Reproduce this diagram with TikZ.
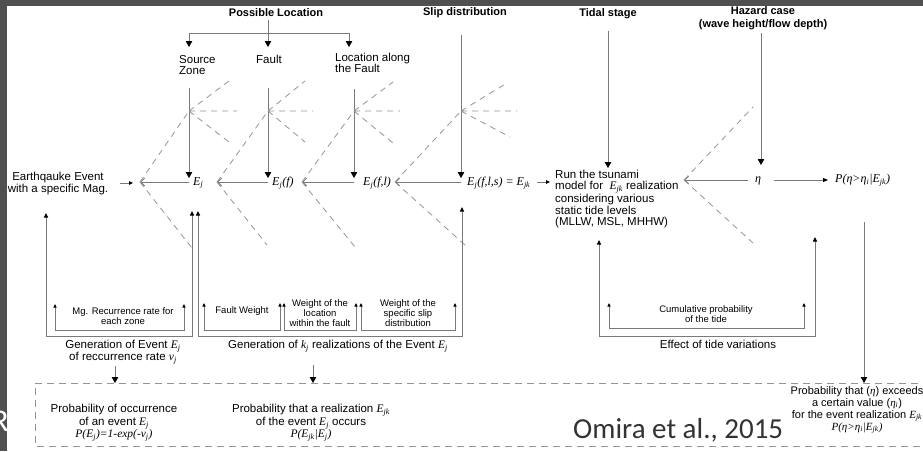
\documentclass[tikz,border=0pt]{standalone}
\usepackage{fontspec}
\setmainfont{Liberation Sans}
\newfontfamily\tms{Liberation Serif}
\newfontfamily\carl{Carlito}
\usetikzlibrary{arrows.meta}
\definecolor{bg}{HTML}{505050}
\definecolor{lc}{HTML}{7A7A7A}
\definecolor{dc}{HTML}{959595}
\newcommand{\mi}[1]{{\tms\itshape #1}}
\newcommand{\Ej}{\mi{E\textsubscript{j}}}
\newcommand{\Ejk}{\mi{E\textsubscript{jk}}}
\begin{document}
\begin{tikzpicture}[x=1pt,y=-1pt,
  ln/.style={draw=lc,line width=0.9pt},
  dsh/.style={draw=dc,line width=0.8pt,dash pattern=on 6pt off 5pt},
  bigarr/.style={ln,-{Triangle[length=6pt,width=6.5pt,color=black]}},
  smarr/.style={ln,-{Triangle[length=4pt,width=3.5pt,color=black]}},
  brk/.style={ln,{Triangle[length=4.5pt,width=4pt,color=black]}-{Triangle[length=4.5pt,width=4pt,color=black]}},
  ibrk/.style={ln,{Triangle[length=3.5pt,width=3pt,color=black]}-{Triangle[length=3.5pt,width=3pt,color=black]}},
  opn/.style={ln,-{Straight Barb[length=4pt,width=8pt]}},
  hd/.style={font=\fontsize{11}{13}\selectfont\bfseries,inner sep=0pt,align=center},
  tx/.style={font=\fontsize{11.5}{12}\selectfont,inner sep=0pt,align=center},
  txl/.style={font=\fontsize{11.5}{11.7}\selectfont,inner sep=0pt,align=left},
  sm/.style={font=\fontsize{9.5}{10}\selectfont,inner sep=0pt,align=center},
  em/.style={font=\tms\itshape\fontsize{12}{12}\selectfont,inner sep=0pt},
]
\fill[bg] (0,0) rectangle (923,451);
\fill[white] (7,6) rectangle (923,451);
\useasboundingbox (0,0) rectangle (923,451);
\node[anchor=east,text=white,font=\carl\fontsize{32}{32}\selectfont,inner sep=0pt] (rr) at (9,421) {R};

% headers
\node[hd] (pl) at (276,13) {Possible Location};
\node[hd] (sd) at (465,13) {Slip distribution};
\node[hd] (ts) at (608,14) {Tidal stage};
\node[hd] (hz) at (763,18.5) {Hazard case\\(wave height/flow depth)};

% location labels
\node[txl,anchor=west] (sz) at (179,65) {Source\\Zone};
\node[tx] (ft) at (269,59) {Fault};
\node[txl,anchor=west] (lf) at (335,63) {Location along\\the Fault};

\coordinate (plT) at (268,20);
\coordinate (plL) at (189,33);
\coordinate (plR) at (349,33);
\draw[ln] (plL) -- (plR);
\draw[bigarr] (plT) -- (268,47);
\draw[bigarr] (plL) -- (189,47);
\draw[bigarr] (plR) -- (349,47);

% E row
\node[tx] (eq) at (58,184) {Earthqauke Event\\with a specific Mag.};
\node[em,anchor=west] (e1) at (193,183) {E\textsubscript{j}};
\node[em,anchor=west] (e2) at (272,183) {E\textsubscript{j}(f)};
\node[em,anchor=west] (e3) at (363,183) {E\textsubscript{j}(f,l)};
\node[em,anchor=west] (e4) at (467,183) {E\textsubscript{j}(f,l,s) = E\textsubscript{jk}};
\node[txl,anchor=west] (run) at (555,199) {Run the tsunami\\model for \ \Ejk{} realization\\considering various\\static tide levels\\(MLLW, MSL, MHHW)};
\node[em] (eta) at (758,181) {η};
\node[em,anchor=west] (pe) at (835,180) {P(η>η\textsubscript{i}|E\textsubscript{jk})};

% verticals
\coordinate (v1) at (189,111);
\coordinate (v2) at (268,111);
\coordinate (v3) at (354,111);
\coordinate (v4) at (461,111);
\draw[bigarr] (189,88) -- (189,178);
\draw[bigarr] (268,88) -- (268,178);
\draw[bigarr] (354,89) -- (354,178);
\draw[bigarr] (461,35) -- (461,178);
\draw[bigarr] (608,31) -- (608,168);
\draw[bigarr] (761,33) -- (761,165);

% horizontals
\coordinate (t1) at (140,182);
\coordinate (t2) at (217,182);
\coordinate (t3) at (302,182);
\coordinate (t4) at (395,182);
\coordinate (t5) at (684,180);
\draw[opn] (189,182) -- (t1);
\draw[opn] (268,182) -- (t2);
\draw[opn] (354,182) -- (t3);
\draw[opn] (461,182) -- (t4);
\draw[opn] (748,180) -- (t5);
\draw[smarr] (120,183) -- (133,183);
\draw[smarr] (537,182) -- (550,182);
\draw[ln,-{Triangle[length=5pt,width=4pt,color=black]}] (774,180) -- (828,180);

% dashed fans
\draw[dsh] (t1) -- (v1) (t1) -- (192,248);
\draw[dsh] (t2) -- (v2) (t2) -- (267,245);
\draw[dsh] (t3) -- (v3) (t3) -- (355,247);
\draw[dsh] (t4) -- (v4) (t4) -- (465,245);
\draw[dsh] (t5) -- (753,107) (t5) -- (753,243);
\draw[dsh] (v1) -- (229,81) (v1) -- (237,111) (v1) -- (229,142);
\draw[dsh] (v2) -- (305,81) (v2) -- (313,111) (v2) -- (305,142);
\draw[dsh] (v3) -- (393,82) (v3) -- (400,111) (v3) -- (393,143);
\draw[dsh] (v4) -- (507,83) (v4) -- (517,111) (v4) -- (510,137);

% box 1
\draw[brk] (46,213) -- (46,336) -- (192,336) -- (192,211);
\draw[ibrk] (55,304) -- (55,330) -- (184,330) -- (184,304);
\node[sm] (mg) at (123,316) {Mg. Recurrence rate for\\each zone};
\node[tx] (g1) at (123,352) {Generation of Event \Ej\\of reccurrence rate \mi{ν\textsubscript{j}}};
\draw[bigarr] (115,366) -- (115,383);

% box 2
\draw[brk] (198,211) -- (198,336) -- (462,336) -- (462,207);
\draw[ibrk] (204,303) -- (204,330) -- (280,330) -- (280,303);
\draw[ibrk] (284,303) -- (284,330) -- (356,330) -- (356,303);
\draw[ibrk] (361,303) -- (361,330) -- (455,330) -- (455,303);
\node[sm] (fw) at (242,311) {Fault Weight};
\node[sm] (wl) at (320,313) {Weight of the\\location\\within the fault};
\node[sm] (ws) at (408,313) {Weight of the\\specific slip\\distribution};
\node[tx] (g2) at (338,346) {Generation of \mi{k\textsubscript{j}} realizations of the Event \Ej};
\draw[bigarr] (313,365) -- (313,383);

% box 3
\draw[brk] (599,240) -- (599,336) -- (815,336) -- (815,237);
\draw[ibrk] (609,303) -- (609,328) -- (804,328) -- (804,303);
\node[sm] (cp) at (706,314) {Cumulative probability\\of the tide};
\node[tx] (g3) at (718,344) {Effect of tide variations};
\draw[bigarr] (864,222) -- (864,383);

% bottom dashed box
\draw[draw=dc,line width=0.8pt,dash pattern=on 7pt off 5pt] (930,383) -- (35,383) -- (35,446) -- (930,446);
\node[tx,font=\fontsize{11.5}{12.5}\selectfont] (b1) at (114,423) {Probability of occurrence\\of an event \Ej\\\mi{P(E\textsubscript{j})=1-exp(-ν\textsubscript{j})}};
\node[tx,font=\fontsize{11.5}{12.5}\selectfont] (b2) at (311,423) {Probability that a realization \Ejk\\of the event \Ej{} occurs\\\mi{P(E\textsubscript{jk}|E\textsubscript{j})}};
\node[sm,font=\fontsize{11}{12}\selectfont] (b3) at (857,410) {Probability that (\mi{η}) exceeds\\a certain value (\mi{η\textsubscript{i}})\\for the event realization \Ejk\\\mi{P(η>η\textsubscript{i}|E\textsubscript{jk})}};
\node[anchor=base west,font=\carl\fontsize{29}{29}\selectfont,inner sep=0pt,text=black!80] (om) at (573,438) {Omira et al., 2015};
\end{tikzpicture}
\end{document}
